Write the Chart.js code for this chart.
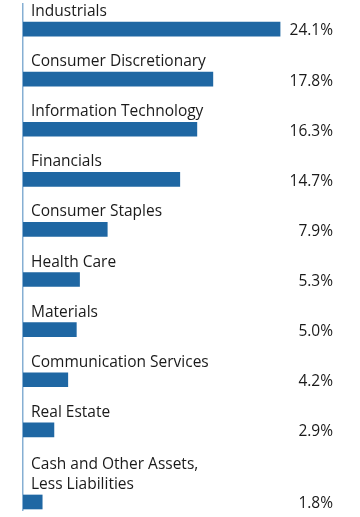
<!DOCTYPE html>
<html>
<head>
<meta charset="utf-8">
<script src="https://cdn.jsdelivr.net/npm/chart.js@4.4.0/dist/chart.umd.min.js"></script>
<style>
  html, body { margin: 0; padding: 0; background: #fff; }
  #wrap { width: 360px; height: 517px; position: relative; }
</style>
</head>
<body>
<div id="wrap"><canvas id="chart"></canvas></div>
<script>
// Sector weights, top to bottom
const sectors = [
    ['Industrials'],
    ['Consumer Discretionary'],
    ['Information Technology'],
    ['Financials'],
    ['Consumer Staples'],
    ['Health Care'],
    ['Materials'],
    ['Communication Services'],
    ['Real Estate'],
    ['Cash and Other Assets,', 'Less Liabilities']
];
const weights = [24.1, 17.8, 16.3, 14.7, 7.9, 5.3, 5.0, 4.2, 2.9, 1.8];
const valueLabels = ['24.1%', '17.8%', '16.3%', '14.7%', '7.9%', '5.3%', '5.0%', '4.2%', '2.9%', '1.8%'];

const BAR_COLOR = '#1f67a3';
const AXIS_COLOR = '#86afd3';
const TEXT_COLOR = '#1a1a1a';
const FONT = '15.5px "Open Sans", sans-serif';

// each row slot grows a bit for every extra label line
const slots = [];
let acc = 0;
sectors.forEach((lines, i) => {
    acc += (lines.length - 1) * 0.44;
    slots.push(i + acc);
});

const points = weights.map((w, i) => ({ x: w, y: slots[i] }));

// labels above bars and values at right
const labelPlugin = {
    id: 'rowLabels',
    afterDatasetsDraw(chart) {
        const ctx = chart.ctx;
        const meta = chart.getDatasetMeta(0);
        const area = chart.chartArea;
        ctx.save();
        ctx.font = FONT;
        ctx.fillStyle = TEXT_COLOR;
        meta.data.forEach((bar, i) => {
            const top = bar.y - bar.height / 2;
            const lines = sectors[i];
            ctx.textAlign = 'left';
            ctx.textBaseline = 'alphabetic';
            lines.forEach((line, j) => {
                const y = top - 6 - (lines.length - 1 - j) * 20;
                ctx.fillText(line, area.left + 8, y);
            });
            ctx.textAlign = 'right';
            ctx.textBaseline = 'middle';
            ctx.fillText(valueLabels[i], 333, bar.y + 2);
        });
        ctx.restore();
    }
};

new Chart(document.getElementById('chart'), {
    type: 'bar',
    data: {
        datasets: [{
            data: points,
            backgroundColor: BAR_COLOR,
            barThickness: 14,
            borderWidth: 0
        }]
    },
    options: {
        indexAxis: 'y',
        responsive: true,
        maintainAspectRatio: false,
        animation: false,
        layout: { padding: { left: 23, right: 17, top: 4, bottom: 7 } },
        plugins: {
            legend: { display: false },
            tooltip: { enabled: false }
        },
        scales: {
            x: {
                type: 'linear',
                min: 0,
                max: 30,
                display: false
            },
            y: {
                type: 'linear',
                reverse: true,
                offset: false,
                min: -0.5,
                max: 9.6,
                ticks: { display: false },
                grid: { display: false, drawTicks: false, offset: false },
                border: { display: true, color: AXIS_COLOR, width: 1.5 }
            }
        }
    },
    plugins: [labelPlugin]
});
</script>
</body>
</html>
